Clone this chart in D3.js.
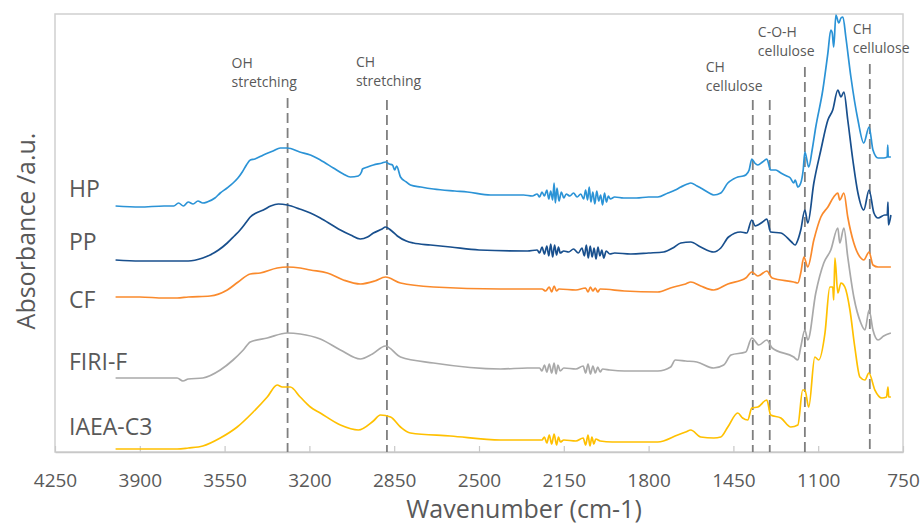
<!DOCTYPE html>
<html>
<head>
<meta charset="utf-8">
<script src="https://cdn.jsdelivr.net/npm/d3@7"></script>
<style>
  body { margin: 0; background: #fff; }
  text { font-family: "Open Sans", "Noto Sans", sans-serif; }
</style>
</head>
<body>
<div id="chart"></div>
<script>
// spectra as [wavenumber, absorbance (a.u., offset for stacking)]
var hp = [[4000,2.46],[3900,2.45],[3800,2.46],[3760,2.46],[3740,2.49],[3720,2.46],[3700,2.50],[3680,2.48],[3660,2.51],[3640,2.49],[3622,2.50],
  [3590,2.54],[3568,2.59],[3540,2.64],[3515,2.69],[3495,2.74],[3477,2.80],[3460,2.87],[3444,2.92],[3425,2.93],[3390,2.97],[3350,3.01],
  [3320,3.04],[3291,3.04],[3240,3.00],[3196,2.97],[3155,2.92],[3101,2.84],[3060,2.78],[3031,2.75],[2998,2.76],[2985,2.80],[2981,2.83],
  [2960,2.85],[2936,2.87],[2900,2.89],[2886,2.90],[2870,2.88],[2857,2.87],[2848,2.82],[2840,2.86],[2824,2.75],[2800,2.70],[2783,2.67],
  [2740,2.65],[2688,2.63],[2600,2.61],[2548,2.60],[2452,2.57],[2316,2.57],[2280,2.56],[2260,2.58],[2250,2.55],[2240,2.60],[2230,2.56],
  [2220,2.62],[2212,2.53],[2204,2.61],[2196,2.52],[2190,2.69],[2185,2.49],[2178,2.64],[2170,2.51],[2160,2.60],[2150,2.54],[2140,2.58],
  [2125,2.56],[2110,2.59],[2095,2.55],[2080,2.58],[2068,2.53],[2060,2.62],[2052,2.52],[2045,2.65],[2038,2.50],[2030,2.60],[2022,2.48],
  [2014,2.61],[2006,2.51],[1998,2.57],[1990,2.47],[1982,2.59],[1974,2.50],[1966,2.56],[1958,2.53],[1940,2.55],[1903,2.54],[1850,2.54],
  [1800,2.55],[1762,2.55],[1720,2.59],[1690,2.62],[1667,2.65],[1640,2.68],[1626,2.69],[1600,2.66],[1585,2.64],[1550,2.59],[1531,2.57],
  [1502,2.59],[1473,2.69],[1450,2.73],[1432,2.75],[1410,2.76],[1399,2.77],[1385,2.82],[1374,2.93],[1362,2.89],[1349,2.87],[1330,2.90],
  [1312,2.93],[1296,2.82],[1275,2.82],[1254,2.79],[1230,2.76],[1215,2.74],[1201,2.69],[1195,2.72],[1184,2.65],[1172,2.69],[1162,2.82],
  [1155,3.00],[1139,2.85],[1125,3.02],[1110,3.25],[1081,3.62],[1060,3.99],[1048,4.22],[1042,4.19],[1036,4.05],[1027,4.37],[1015,4.29],
  [1006,4.34],[998,4.35],[986,4.15],[965,3.75],[936,3.32],[912,3.09],[890,3.25],[874,3.02],[853,2.94],[830,2.94],[815,2.95],[813,3.07],
  [811,2.95],[800,2.95]];

var pp = [[4000,1.92],[3900,1.91],[3800,1.91],[3700,1.91],[3640,1.94],[3610,1.97],[3575,2.02],[3539,2.09],[3510,2.16],[3486,2.22],
  [3460,2.30],[3444,2.35],[3420,2.39],[3390,2.42],[3360,2.46],[3328,2.48],[3291,2.47],[3240,2.43],[3196,2.39],[3155,2.34],[3100,2.26],
  [3072,2.22],[3030,2.17],[2990,2.13],[2960,2.15],[2936,2.19],[2900,2.23],[2886,2.25],[2860,2.21],[2837,2.16],[2800,2.11],[2771,2.09],
  [2700,2.07],[2618,2.05],[2500,2.02],[2300,2.01],[2260,2.02],[2250,1.99],[2240,2.05],[2230,1.98],[2220,2.06],[2212,1.96],[2204,2.08],
  [2196,1.95],[2188,2.07],[2180,1.97],[2172,2.05],[2165,1.99],[2150,2.01],[2130,2.00],[2110,2.03],[2090,1.99],[2075,2.04],[2065,1.96],
  [2057,2.07],[2049,1.94],[2041,2.06],[2033,1.95],[2025,2.04],[2017,1.93],[2009,2.05],[2001,1.96],[1993,2.02],[1985,1.94],[1975,2.01],
  [1960,1.98],[1940,1.99],[1874,1.98],[1800,1.99],[1738,2.00],[1700,2.04],[1667,2.09],[1626,2.10],[1585,2.05],[1531,2.00],[1502,2.04],
  [1470,2.15],[1420,2.20],[1395,2.19],[1374,2.32],[1360,2.26],[1349,2.27],[1330,2.30],[1312,2.33],[1296,2.20],[1254,2.19],[1210,2.10],
  [1195,2.07],[1184,2.12],[1172,2.22],[1155,2.42],[1143,2.29],[1118,2.69],[1089,3.02],[1060,3.32],[1040,3.42],[1019,3.62],[1006,3.55],
  [994,3.60],[978,3.32],[957,2.92],[936,2.59],[912,2.42],[890,2.62],[870,2.39],[853,2.34],[825,2.37],[815,2.37],[812,2.50],[810,2.27],
  [800,2.37]];

var cf = [[4000,1.55],[3900,1.55],[3800,1.54],[3746,1.54],[3700,1.55],[3610,1.56],[3539,1.62],[3494,1.70],[3444,1.78],[3403,1.79],
  [3333,1.84],[3291,1.85],[3238,1.84],[3196,1.82],[3126,1.79],[3060,1.72],[2990,1.68],[2930,1.71],[2886,1.75],[2824,1.69],[2688,1.65],
  [2411,1.63],[2240,1.63],[2225,1.61],[2210,1.65],[2200,1.60],[2190,1.66],[2180,1.61],[2170,1.63],[2100,1.62],[2060,1.64],[2050,1.60],
  [2040,1.65],[2030,1.61],[2020,1.64],[2010,1.60],[2000,1.63],[1900,1.61],[1762,1.60],[1710,1.64],[1680,1.66],[1647,1.68],[1626,1.70],
  [1585,1.66],[1531,1.62],[1473,1.68],[1399,1.74],[1374,1.80],[1349,1.76],[1312,1.81],[1290,1.74],[1201,1.70],[1184,1.69],[1172,1.79],
  [1159,1.95],[1143,1.85],[1118,2.12],[1089,2.35],[1060,2.45],[1036,2.55],[1019,2.59],[1011,2.52],[994,2.59],[978,2.35],[953,2.09],
  [924,1.94],[912,1.92],[890,2.00],[874,1.87],[853,1.85],[800,1.85]];

var firi = [[4000,0.74],[3850,0.74],[3746,0.74],[3722,0.71],[3700,0.73],[3640,0.74],[3568,0.82],[3515,0.92],[3473,1.02],[3444,1.10],
  [3374,1.14],[3291,1.19],[3238,1.18],[3155,1.13],[3072,1.02],[2990,0.93],[2940,0.98],[2886,1.06],[2824,0.95],[2688,0.89],[2411,0.83],
  [2300,0.84],[2250,0.84],[2240,0.81],[2230,0.87],[2220,0.80],[2210,0.88],[2200,0.79],[2190,0.89],[2182,0.78],[2174,0.87],[2165,0.81],
  [2150,0.84],[2100,0.83],[2070,0.86],[2060,0.79],[2050,0.88],[2040,0.78],[2030,0.86],[2020,0.79],[2010,0.85],[2000,0.80],[1990,0.83],
  [1960,0.82],[1900,0.81],[1762,0.81],[1709,0.85],[1690,0.92],[1647,0.91],[1601,0.90],[1531,0.84],[1490,0.87],[1460,0.97],[1399,1.00],
  [1374,1.14],[1345,1.07],[1312,1.12],[1290,1.04],[1201,0.95],[1184,0.92],[1172,1.05],[1155,1.22],[1143,1.12],[1110,1.59],[1077,1.89],
  [1048,2.02],[1019,2.24],[1011,2.09],[994,2.24],[978,1.95],[953,1.55],[924,1.29],[907,1.22],[890,1.42],[874,1.22],[853,1.12],
  [830,1.16],[800,1.19]];

var iaea = [[4000,0.03],[3746,0.03],[3700,0.04],[3640,0.06],[3568,0.14],[3498,0.25],[3432,0.40],[3374,0.55],[3333,0.67],[3312,0.65],
  [3279,0.65],[3238,0.55],[3196,0.45],[3155,0.39],[3072,0.27],[2998,0.22],[2936,0.31],[2907,0.37],[2865,0.35],[2824,0.25],[2783,0.19],
  [2618,0.16],[2411,0.12],[2300,0.12],[2240,0.12],[2230,0.15],[2220,0.09],[2210,0.17],[2200,0.08],[2190,0.18],[2180,0.07],[2172,0.15],
  [2164,0.10],[2150,0.12],[2100,0.11],[2070,0.14],[2060,0.07],[2050,0.17],[2042,0.06],[2034,0.15],[2026,0.08],[2018,0.13],[2000,0.11],
  [1950,0.10],[1762,0.10],[1680,0.17],[1647,0.20],[1626,0.22],[1585,0.15],[1531,0.14],[1502,0.15],[1473,0.25],[1432,0.39],[1412,0.34],
  [1391,0.32],[1374,0.44],[1349,0.45],[1312,0.52],[1296,0.37],[1254,0.34],[1213,0.25],[1184,0.27],[1164,0.62],[1155,0.62],[1139,0.45],
  [1114,0.95],[1098,0.92],[1072,1.19],[1052,1.65],[1040,1.65],[1036,1.52],[1031,1.94],[1019,1.59],[1006,1.69],[990,1.65],[969,1.42],
  [949,1.05],[928,0.75],[907,0.72],[891,0.79],[866,0.62],[837,0.54],[818,0.55],[812,0.65],[809,0.55],[800,0.55]];

var seriesNames = ["HP", "PP", "CF", "FIRI-F", "IAEA-C3"];
var seriesData = [hp, pp, cf, firi, iaea];
var seriesColors = ["#2b93d6", "#184f8d", "#fa8a2c", "#a9a9a9", "#ffc000"];
// label sits a little above where each trace starts
var labelLevels = [2.55, 2.02, 1.44, 0.82, 0.17];

var xTicks = [4250, 3900, 3550, 3200, 2850, 2500, 2150, 1800, 1450, 1100, 750];

var bands = [3290, 2880, 1370, 1300, 1155, 887];
var bandTops = [3.54, 3.52, 3.52, 3.52, 3.85, 3.88];
var bandNotes = [
  {wn: 3290, lines: ["OH", "stretching"], level: 3.84, dx: -56},
  {wn: 2880, lines: ["CH", "stretching"], level: 3.85, dx: -31},
  {wn: 1370, lines: ["CH", "cellulose"], level: 3.80, dx: -47},
  {wn: 1155, lines: ["C-O-H", "cellulose"], level: 4.15, dx: -47},
  {wn: 887, lines: ["CH", "cellulose"], level: 4.18, dx: -17}
];

var W = 921, H = 526;
var margin = {top: 14, right: 18, bottom: 74, left: 55};

var svg = d3.select("#chart").append("svg")
    .attr("width", W)
    .attr("height", H);

var x = d3.scaleLinear().domain([4250, 750]).range([margin.left, W - margin.right]);
var y = d3.scaleLinear().domain([0, 4.38]).range([H - margin.bottom, margin.top]);

// frame
svg.append("rect")
    .attr("x", margin.left)
    .attr("y", margin.top)
    .attr("width", W - margin.right - margin.left)
    .attr("height", H - margin.bottom - margin.top)
    .attr("fill", "none")
    .attr("stroke", "#d0d0d0")
    .attr("stroke-width", 1.5);

// x axis, ticks pointing inward
var xAxis = svg.append("g")
    .attr("transform", "translate(0," + (H - margin.bottom) + ")")
    .call(d3.axisBottom(x).tickValues(xTicks).tickSizeInner(-6).tickSizeOuter(0).tickPadding(22)
      .tickFormat(d3.format("d")));
xAxis.select(".domain").attr("stroke", "#c8c8c8").attr("stroke-width", 1.5);
xAxis.selectAll(".tick line").attr("stroke", "#c8c8c8").attr("stroke-width", 1.2);
xAxis.selectAll(".tick text")
    .attr("fill", "#595959")
    .style("font-size", "19px")
    .style("font-family", "'Open Sans', sans-serif");

// dashed band markers
svg.append("g").selectAll("line")
    .data(bands)
    .enter().append("line")
    .attr("x1", function(d) { return x(d); })
    .attr("x2", function(d) { return x(d); })
    .attr("y1", function(d, i) { return y(bandTops[i]); })
    .attr("y2", y(0))
    .attr("stroke", "#7f7f7f")
    .attr("stroke-width", 1.8)
    .attr("stroke-dasharray", "10,5");

// band notes
var notes = svg.append("g").selectAll("text")
    .data(bandNotes)
    .enter().append("text")
    .attr("x", function(d) { return x(d.wn) + d.dx; })
    .attr("y", function(d) { return y(d.level); })
    .attr("fill", "#595959")
    .style("font-size", "14px");
notes.selectAll("tspan")
    .data(function(d) { return d.lines; })
    .enter().append("tspan")
    .attr("x", function() { var p = d3.select(this.parentNode).datum(); return x(p.wn) + p.dx; })
    .attr("dy", function(d, i) { return i ? 19 : 0; })
    .text(function(d) { return d; });

// spectra
var line = d3.line()
    .curve(d3.curveMonotoneX)
    .x(function(d) { return x(d[0]); })
    .y(function(d) { return y(d[1]); });

svg.append("g").selectAll("path")
    .data(seriesData)
    .enter().append("path")
    .attr("d", line)
    .attr("fill", "none")
    .attr("stroke", function(d, i) { return seriesColors[i]; })
    .attr("stroke-width", 1.7)
    .attr("stroke-linejoin", "round");

// series names
svg.append("g").selectAll("text")
    .data(seriesNames)
    .enter().append("text")
    .attr("x", margin.left + 14)
    .attr("y", function(d, i) { return y(labelLevels[i]); })
    .attr("fill", "#595959")
    .style("font-size", "23px")
    .text(function(d) { return d; });

// axis titles
svg.append("text")
    .attr("x", 524)
    .attr("y", 518)
    .attr("text-anchor", "middle")
    .attr("fill", "#595959")
    .style("font-size", "25px")
    .text("Wavenumber (cm-1)");

svg.append("text")
    .attr("transform", "translate(35,231) rotate(-90)")
    .attr("text-anchor", "middle")
    .attr("fill", "#595959")
    .style("font-size", "25px")
    .text("Absorbance /a.u.");
</script>
</body>
</html>
